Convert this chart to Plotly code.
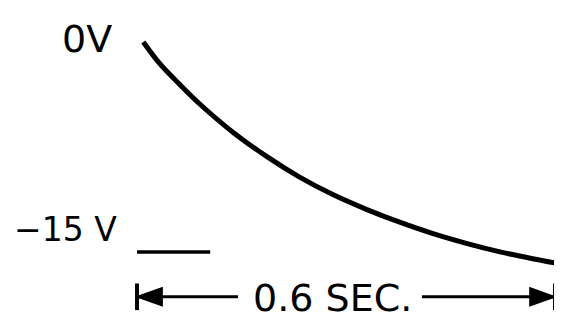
import plotly.graph_objects as go

# Data
time_s = [0.009, 0.033, 0.062, 0.090, 0.138, 0.187, 0.234, 0.281, 0.330,
          0.378, 0.425, 0.474, 0.521, 0.568, 0.610]
volts = [0.0, -1.57, -3.07, -4.43, -6.46, -8.21, -9.67, -10.90, -11.97,
         -12.89, -13.69, -14.40, -14.99, -15.48, -15.87]

level_labels = ["0V", "−15 V"]
level_values = [0, -15]
span_start = 0.0
span_end = 0.6
span_label = "0.6 SEC."

# Layout constants (data units); page body has an 8px margin
x_range = [-0.1852, 0.6100]
y_range = [-20.0, 2.4286]
dim_y = -18.2          # height of dimension line
ref_line_end = 0.105   # short -15 V marker line length
gap = (0.145, 0.409)   # gap in dimension line for label
arrow_len = 0.036
arrow_half = 0.64
bar_half = 0.95

fig = go.Figure()

# main decay curve
fig.add_trace(go.Scatter(x=time_s, y=volts, mode="lines",
                         line=dict(color="black", width=5, shape="spline", smoothing=1.0),
                         hoverinfo="skip"))

# -15 V reference stub
fig.add_trace(go.Scatter(x=[span_start, ref_line_end], y=[level_values[1]] * 2,
                         mode="lines", line=dict(color="black", width=3.5),
                         hoverinfo="skip"))

# dimension line segments
fig.add_trace(go.Scatter(x=[span_start, gap[0], None, gap[1], span_end],
                         y=[dim_y, dim_y, None, dim_y, dim_y],
                         mode="lines", line=dict(color="black", width=3),
                         hoverinfo="skip"))

# end bars
for xe in (span_start, span_end):
    fig.add_trace(go.Scatter(x=[xe, xe], y=[dim_y - bar_half, dim_y + bar_half],
                             mode="lines", line=dict(color="black", width=4),
                             hoverinfo="skip"))

# arrowheads (filled triangles)
for tip, direction in ((span_start, 1), (span_end, -1)):
    base = tip + direction * arrow_len
    fig.add_trace(go.Scatter(x=[tip, base, base, tip],
                             y=[dim_y, dim_y + arrow_half, dim_y - arrow_half, dim_y],
                             mode="lines", fill="toself", fillcolor="black",
                             line=dict(color="black", width=1.5),
                             hoverinfo="skip"))

annotations = [
    dict(x=-0.0718, y=level_values[0] + 0.25, text=level_labels[0], size=38),
    dict(x=-0.1033, y=level_values[1] + 1.6, text=level_labels[1], size=33),
    dict(x=(gap[0] + gap[1]) / 2 + 0.003, y=dim_y - 0.05, text=span_label, size=38),
]
for a in annotations:
    size = a.pop("size")
    a.update(xref="x", yref="y", showarrow=False,
             font=dict(family="DejaVu Sans", size=size, color="black"),
             xanchor="center", yanchor="middle")

fig.update_layout(
    width=554, height=314,
    margin=dict(l=0, r=0, t=0, b=0),
    paper_bgcolor="white", plot_bgcolor="white",
    showlegend=False,
    annotations=annotations,
    xaxis=dict(range=x_range, visible=False, fixedrange=True),
    yaxis=dict(range=y_range, visible=False, fixedrange=True),
)

fig.write_html("out.html", config={"displayModeBar": False})
